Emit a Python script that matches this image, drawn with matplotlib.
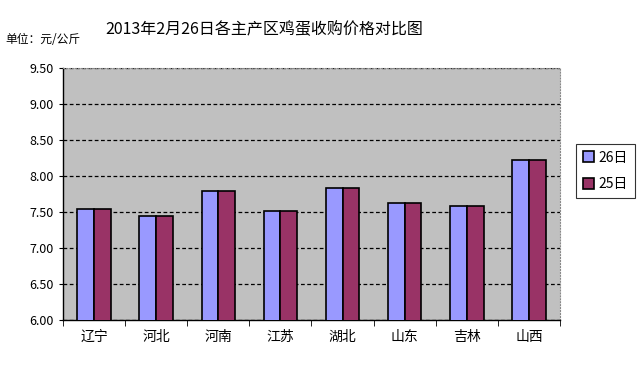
import matplotlib.pyplot as plt
import numpy as np

plt.rcParams['font.family'] = ['Noto Sans CJK SC', 'DejaVu Sans']

# Dados
provincias = ['辽宁', '河北', '河南', '江苏', '湖北', '山东', '吉林', '山西']
preco_26 = [7.54, 7.44, 7.79, 7.52, 7.84, 7.62, 7.58, 8.23]
preco_25 = [7.54, 7.44, 7.79, 7.52, 7.84, 7.62, 7.58, 8.23]
yticks = [6.00, 6.50, 7.00, 7.50, 8.00, 8.50, 9.00, 9.50]

fig = plt.figure(figsize=(6.38, 3.70), dpi=100)
ax = fig.add_axes([0.0987, 0.135, 0.779, 0.681])
ax.set_facecolor('#C0C0C0')

x = np.arange(len(provincias))
larg = 0.27
ax.bar(x - larg / 2, preco_26, larg, bottom=0, color='#9999FF', edgecolor='black',
       linewidth=1.2, label='26日', zorder=3)
ax.bar(x + larg / 2, preco_25, larg, bottom=0, color='#993366', edgecolor='black',
       linewidth=1.2, label='25日', zorder=3)

ax.set_ylim(6.0, 9.5)
ax.set_xlim(-0.5, len(provincias) - 0.5)
ax.set_yticks(yticks)
ax.set_yticklabels([f'{v:.2f}' for v in yticks], fontsize=9)
ax.yaxis.grid(True, linestyle=(0, (3, 2)), color='black', linewidth=0.9, zorder=1)

ax.set_xticks(x)
ax.set_xticklabels(provincias, fontsize=10)
ax.tick_params(axis='x', length=0, pad=7)
ax.set_xticks(np.arange(-0.5, len(provincias)), minor=True)
ax.tick_params(axis='x', which='minor', length=4, direction='out', color='black')
ax.tick_params(axis='y', length=3, direction='out')

ax.spines['top'].set_linestyle(':')
ax.spines['top'].set_color('#888888')
ax.spines['right'].set_linestyle(':')
ax.spines['right'].set_color('#888888')
ax.spines['left'].set_linewidth(1)
ax.spines['bottom'].set_linewidth(1)

leg = ax.legend(loc='upper left', bbox_to_anchor=(1.033, 0.70), fontsize=10,
                frameon=True, fancybox=False, edgecolor='black', handlelength=0.8,
                handleheight=0.8, handletextpad=0.3, borderpad=0.5, labelspacing=0.9,
                borderaxespad=0)
leg.get_frame().set_linewidth(0.8)

fig.text(0.414, 0.92, '2013年2月26日各主产区鸡蛋收购价格对比图', ha='center', va='center',
         fontsize=11.5)
fig.text(0.008, 0.893, '单位：元/公斤', ha='left', va='center', fontsize=8.5)

fig.savefig('out.png', dpi=100)
